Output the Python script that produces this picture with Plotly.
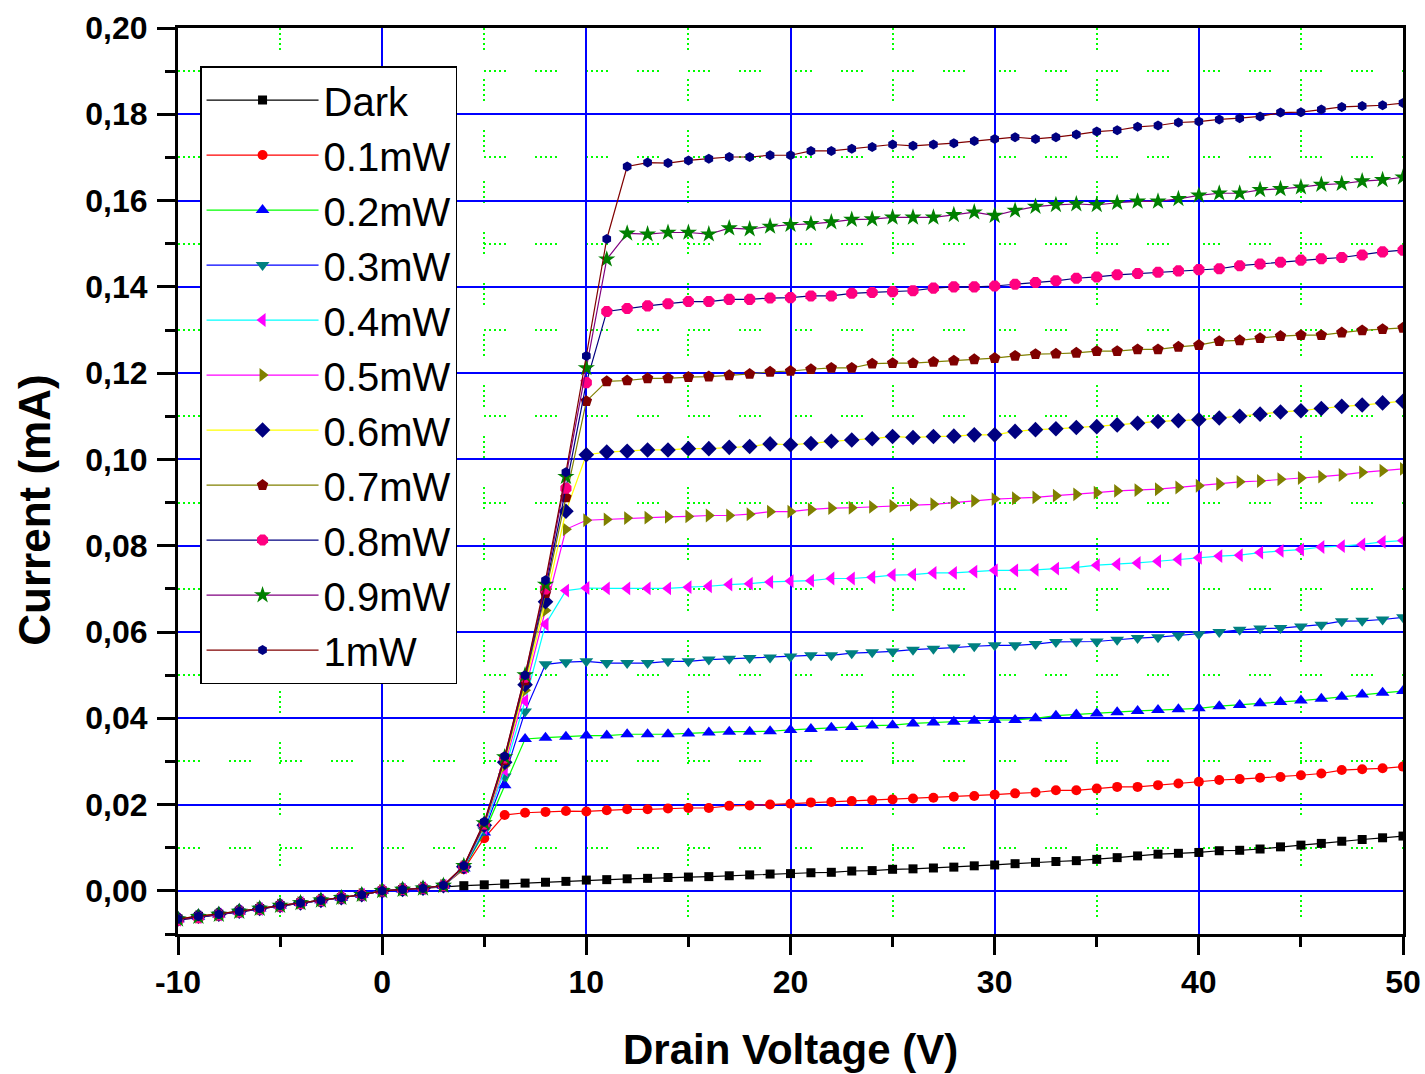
import plotly.graph_objects as go

# Drain voltage sweep (V)
voltage = [-10, -9, -8, -7, -6, -5, -4, -3, -2, -1, 0, 1, 2, 3, 4, 5, 6, 7, 8, 9, 10,
           11, 12, 13, 14, 15, 16, 17, 18, 19, 20, 21, 22, 23, 24, 25, 26, 27, 28, 29, 30,
           31, 32, 33, 34, 35, 36, 37, 38, 39, 40, 41, 42, 43, 44, 45, 46, 47, 48, 49, 50]

# Current (mA) for each illumination level
i_dark = [-0.0065, -0.0059, -0.0054, -0.0047, -0.0041, -0.0034, -0.0028, -0.0022, -0.0016, -0.0009, 0.0, 0.0003, 0.0006,
          0.0010, 0.0012, 0.0014, 0.0016, 0.0018, 0.0020, 0.0022, 0.0025,
          0.0026, 0.0028, 0.0029, 0.0031, 0.0032, 0.0033, 0.0035, 0.0037, 0.0039, 0.0040,
          0.0042, 0.0043, 0.0046, 0.0047, 0.0050, 0.0051, 0.0053, 0.0055, 0.0058, 0.0060,
          0.0063, 0.0066, 0.0068, 0.0070, 0.0073, 0.0077, 0.0081, 0.0085, 0.0087, 0.0089,
          0.0093, 0.0094, 0.0097, 0.0102, 0.0106, 0.0110, 0.0115, 0.0119, 0.0123, 0.0127]

i_01 = [-0.0068, -0.0062, -0.0056, -0.0049, -0.0042, -0.0035, -0.0028, -0.0022, -0.0016, -0.0009, 0.0, 0.0003, 0.0006,
        0.0012, 0.0050, 0.0122, 0.0176, 0.0181, 0.0183, 0.0185, 0.0184,
        0.0187, 0.0189, 0.0189, 0.0191, 0.0192, 0.0192, 0.0197, 0.0198, 0.0200, 0.0202,
        0.0205, 0.0206, 0.0208, 0.0210, 0.0212, 0.0214, 0.0216, 0.0218, 0.0220, 0.0223,
        0.0226, 0.0228, 0.0233, 0.0233, 0.0237, 0.0241, 0.0241, 0.0245, 0.0249, 0.0253,
        0.0257, 0.0259, 0.0262, 0.0264, 0.0268, 0.0272, 0.0280, 0.0282, 0.0284, 0.0288]

i_02 = [-0.0066, -0.0060, -0.0055, -0.0048, -0.0041, -0.0034, -0.0028, -0.0022, -0.0016, -0.0009, 0.0, 0.0003, 0.0006,
        0.0012, 0.0052, 0.0135, 0.0245, 0.0352, 0.0355, 0.0357, 0.0360,
        0.0360, 0.0363, 0.0363, 0.0363, 0.0365, 0.0367, 0.0369, 0.0369, 0.0370, 0.0373,
        0.0375, 0.0378, 0.0380, 0.0383, 0.0384, 0.0388, 0.0390, 0.0392, 0.0394, 0.0396,
        0.0396, 0.0400, 0.0406, 0.0409, 0.0411, 0.0414, 0.0417, 0.0419, 0.0421, 0.0423,
        0.0428, 0.0431, 0.0435, 0.0438, 0.0441, 0.0445, 0.0450, 0.0455, 0.0459, 0.0463]

i_03 = [-0.0066, -0.0060, -0.0055, -0.0048, -0.0041, -0.0035, -0.0028, -0.0022, -0.0016, -0.0009, 0.0, 0.0003, 0.0006,
        0.0012, 0.0053, 0.0140, 0.0265, 0.0416, 0.0525, 0.0530, 0.0532,
        0.0528, 0.0528, 0.0528, 0.0532, 0.0532, 0.0536, 0.0538, 0.0540, 0.0541, 0.0543,
        0.0546, 0.0546, 0.0551, 0.0553, 0.0555, 0.0559, 0.0561, 0.0564, 0.0567, 0.0569,
        0.0569, 0.0572, 0.0577, 0.0578, 0.0578, 0.0582, 0.0586, 0.0588, 0.0592, 0.0595,
        0.0600, 0.0605, 0.0608, 0.0609, 0.0613, 0.0617, 0.0625, 0.0626, 0.0629, 0.0634]

i_04 = [-0.0067, -0.0061, -0.0055, -0.0048, -0.0042, -0.0035, -0.0028, -0.0022, -0.0016, -0.0009, 0.0, 0.0003, 0.0006,
        0.0012, 0.0054, 0.0145, 0.0280, 0.0440, 0.0618, 0.0696, 0.0702,
        0.0701, 0.0701, 0.0701, 0.0701, 0.0704, 0.0706, 0.0710, 0.0712, 0.0716, 0.0718,
        0.0719, 0.0724, 0.0724, 0.0727, 0.0732, 0.0733, 0.0737, 0.0737, 0.0740, 0.0743,
        0.0743, 0.0744, 0.0747, 0.0750, 0.0755, 0.0757, 0.0760, 0.0764, 0.0768, 0.0772,
        0.0776, 0.0778, 0.0784, 0.0788, 0.0791, 0.0797, 0.0799, 0.0803, 0.0809, 0.0812]

i_05 = [-0.0066, -0.0060, -0.0055, -0.0048, -0.0041, -0.0034, -0.0028, -0.0022, -0.0016, -0.0009, 0.0, 0.0003, 0.0006,
        0.0012, 0.0055, 0.0150, 0.0290, 0.0465, 0.0650, 0.0838, 0.0859,
        0.0861, 0.0864, 0.0865, 0.0867, 0.0868, 0.0870, 0.0870, 0.0873, 0.0879, 0.0879,
        0.0884, 0.0887, 0.0888, 0.0890, 0.0892, 0.0895, 0.0896, 0.0900, 0.0904, 0.0908,
        0.0910, 0.0912, 0.0916, 0.0919, 0.0923, 0.0927, 0.0929, 0.0931, 0.0935, 0.0939,
        0.0943, 0.0948, 0.0950, 0.0954, 0.0957, 0.0960, 0.0964, 0.0970, 0.0974, 0.0978]

i_06 = [-0.0065, -0.0059, -0.0054, -0.0047, -0.0041, -0.0034, -0.0028, -0.0022, -0.0016, -0.0009, 0.0, 0.0003, 0.0006,
        0.0012, 0.0056, 0.0152, 0.0298, 0.0478, 0.0670, 0.0880, 0.1011,
        0.1017, 0.1019, 0.1022, 0.1022, 0.1025, 0.1025, 0.1028, 0.1030, 0.1036, 0.1034,
        0.1037, 0.1042, 0.1045, 0.1048, 0.1053, 0.1051, 0.1053, 0.1054, 0.1057, 0.1057,
        0.1065, 0.1069, 0.1071, 0.1074, 0.1076, 0.1080, 0.1084, 0.1088, 0.1090, 0.1092,
        0.1096, 0.1100, 0.1105, 0.1110, 0.1113, 0.1118, 0.1123, 0.1126, 0.1131, 0.1135]

i_07 = [-0.0066, -0.0060, -0.0055, -0.0048, -0.0041, -0.0035, -0.0028, -0.0022, -0.0016, -0.0009, 0.0, 0.0003, 0.0006,
        0.0012, 0.0057, 0.0154, 0.0303, 0.0488, 0.0690, 0.0912, 0.1135,
        0.1181, 0.1183, 0.1188, 0.1188, 0.1191, 0.1192, 0.1195, 0.1198, 0.1203, 0.1205,
        0.1209, 0.1212, 0.1212, 0.1222, 0.1223, 0.1223, 0.1226, 0.1229, 0.1232, 0.1235,
        0.1240, 0.1244, 0.1245, 0.1247, 0.1251, 0.1251, 0.1255, 0.1255, 0.1261, 0.1265,
        0.1274, 0.1276, 0.1281, 0.1286, 0.1288, 0.1288, 0.1294, 0.1299, 0.1302, 0.1305]

i_08 = [-0.0068, -0.0062, -0.0056, -0.0049, -0.0042, -0.0035, -0.0029, -0.0022, -0.0016, -0.0009, 0.0, 0.0003, 0.0006,
        0.0012, 0.0057, 0.0155, 0.0308, 0.0495, 0.0700, 0.0933, 0.1178,
        0.1343, 0.1350, 0.1356, 0.1361, 0.1366, 0.1366, 0.1371, 0.1371, 0.1374, 0.1375,
        0.1379, 0.1379, 0.1385, 0.1387, 0.1389, 0.1391, 0.1397, 0.1400, 0.1400, 0.1402,
        0.1406, 0.1410, 0.1414, 0.1420, 0.1423, 0.1428, 0.1431, 0.1434, 0.1437, 0.1440,
        0.1442, 0.1449, 0.1453, 0.1457, 0.1462, 0.1465, 0.1468, 0.1474, 0.1481, 0.1485]

i_09 = [-0.0066, -0.0060, -0.0055, -0.0048, -0.0041, -0.0034, -0.0028, -0.0022, -0.0016, -0.0009, 0.0, 0.0003, 0.0006,
        0.0012, 0.0058, 0.0157, 0.0310, 0.0500, 0.0710, 0.0960, 0.1212,
        0.1464, 0.1524, 0.1522, 0.1526, 0.1526, 0.1522, 0.1536, 0.1534, 0.1540, 0.1544,
        0.1546, 0.1550, 0.1556, 0.1557, 0.1561, 0.1561, 0.1561, 0.1567, 0.1573, 0.1565,
        0.1577, 0.1586, 0.1590, 0.1592, 0.1590, 0.1595, 0.1598, 0.1598, 0.1604, 0.1612,
        0.1617, 0.1617, 0.1625, 0.1627, 0.1631, 0.1637, 0.1639, 0.1645, 0.1648, 0.1654]

i_10 = [-0.0065, -0.0059, -0.0054, -0.0047, -0.0041, -0.0034, -0.0028, -0.0022, -0.0016, -0.0009, 0.0, 0.0003, 0.0006,
        0.0013, 0.0058, 0.0160, 0.0312, 0.0500, 0.0720, 0.0970, 0.1240,
        0.1511, 0.1679, 0.1688, 0.1687, 0.1693, 0.1697, 0.1701, 0.1701, 0.1705, 0.1705,
        0.1715, 0.1715, 0.1720, 0.1724, 0.1730, 0.1727, 0.1730, 0.1733, 0.1738, 0.1743,
        0.1747, 0.1743, 0.1747, 0.1753, 0.1760, 0.1763, 0.1771, 0.1774, 0.1781, 0.1783,
        0.1788, 0.1791, 0.1795, 0.1804, 0.1805, 0.1811, 0.1817, 0.1819, 0.1821, 0.1826]

series_names = ["Dark", "0.1mW", "0.2mW", "0.3mW", "0.4mW", "0.5mW",
                "0.6mW", "0.7mW", "0.8mW", "0.9mW", "1mW"]
series_values = [i_dark, i_01, i_02, i_03, i_04, i_05, i_06, i_07, i_08, i_09, i_10]

# x tick labels (plain hyphen minus, as in the original)
x_tick_values = [-10, 0, 10, 20, 30, 40, 50]
x_tick_labels = ["-10", "0", "10", "20", "30", "40", "50"]

line_colors = ["#000000", "#FF0000", "#00FF00", "#0000FF", "#00FFFF", "#FF00FF",
               "#FFFF00", "#808000", "#000080", "#800080", "#800000"]
marker_colors = ["#000000", "#FF0000", "#0000FF", "#008080", "#FF00FF", "#808000",
                 "#000080", "#800000", "#FF0080", "#008000", "#000080"]
marker_symbols = ["square", "circle", "triangle-up", "triangle-down", "triangle-left",
                  "triangle-right", "diamond", "pentagon", "octagon", "star", "hexagon"]
marker_sizes = [9, 10, 12, 12, 12, 12, 12, 12, 12, 13, 10]

FONT = "Liberation Sans, Arial, sans-serif"

fig = go.Figure()
for name, vals, lc, mc, ms, sz in zip(series_names, series_values, line_colors,
                                      marker_colors, marker_symbols, marker_sizes):
    fig.add_trace(go.Scatter(
        x=voltage, y=vals, name=name, mode="lines+markers",
        legendgroup=name,
        line=dict(color=lc, width=1.2),
        marker=dict(symbol=ms, color=mc, size=sz, line=dict(width=0)),
    ))

minor_dash = "2px,3px,2px,3px,2px,3px,2px,3px,2px,29px"

fig.update_layout(
    width=1425, height=1074,
    margin=dict(l=178, r=22, t=28, b=140, autoexpand=False),
    paper_bgcolor="white", plot_bgcolor="white",
    separators=",.",
    font=dict(family=FONT, color="black"),
    showlegend=True,
    legend=dict(
        x=0.018, y=0.958, xanchor="left", yanchor="top",
        bgcolor="white", bordercolor="black", borderwidth=1.5,
        font=dict(family=FONT, size=40, color="black"),
        itemwidth=112, itemsizing="trace",
        tracegroupgap=0, traceorder="grouped",
    ),
    xaxis=dict(
        range=[-10, 50], tickmode="array", tickvals=x_tick_values, ticktext=x_tick_labels,
        ticks="outside", ticklen=18, tickwidth=2.5, tickcolor="black",
        showline=True, linewidth=3, linecolor="black", mirror=True,
        showgrid=True, gridcolor="#0000FF", gridwidth=1.6, zeroline=False,
        automargin=False,
        tickfont=dict(family=FONT, size=32, color="black", weight="bold"),
        ticklabelstandoff=0,
        minor=dict(dtick=5, tick0=0, ticks="outside", ticklen=10, tickwidth=2.5,
                   tickcolor="black", showgrid=True, gridcolor="#00FF00",
                   gridwidth=2, griddash=minor_dash),
    ),
    yaxis=dict(
        range=[-0.01, 0.20], tick0=0, dtick=0.02, tickformat=".2f",
        ticks="outside", ticklen=18, tickwidth=2.5, tickcolor="black",
        showline=True, linewidth=3, linecolor="black", mirror=True,
        showgrid=True, gridcolor="#0000FF", gridwidth=1.6, zeroline=False,
        automargin=False,
        tickfont=dict(family=FONT, size=32, color="black", weight="bold"),
        ticklabelstandoff=3,
        minor=dict(dtick=0.01, tick0=0, ticks="outside", ticklen=10, tickwidth=2.5,
                   tickcolor="black", showgrid=True, gridcolor="#00FF00",
                   gridwidth=2, griddash=minor_dash),
    ),
    annotations=[
        dict(text="Drain Voltage (V)", xref="paper", yref="paper",
             x=0.5, y=-0.128, xanchor="center", yanchor="middle", showarrow=False,
             font=dict(family=FONT, size=42, color="black", weight="bold")),
        dict(text="Current (mA)", xref="paper", yref="paper",
             x=-0.117, y=0.468, xanchor="center", yanchor="middle", showarrow=False,
             textangle=-90,
             font=dict(family=FONT, size=44, color="black", weight="bold")),
    ],
)

# Remove the default 8 px page margin so the figure fills the window exactly.
fig.write_html(
    "out.html",
    config={"displayModeBar": False},
    post_script="document.body.style.margin='0px';document.body.style.overflow='hidden';",
)
